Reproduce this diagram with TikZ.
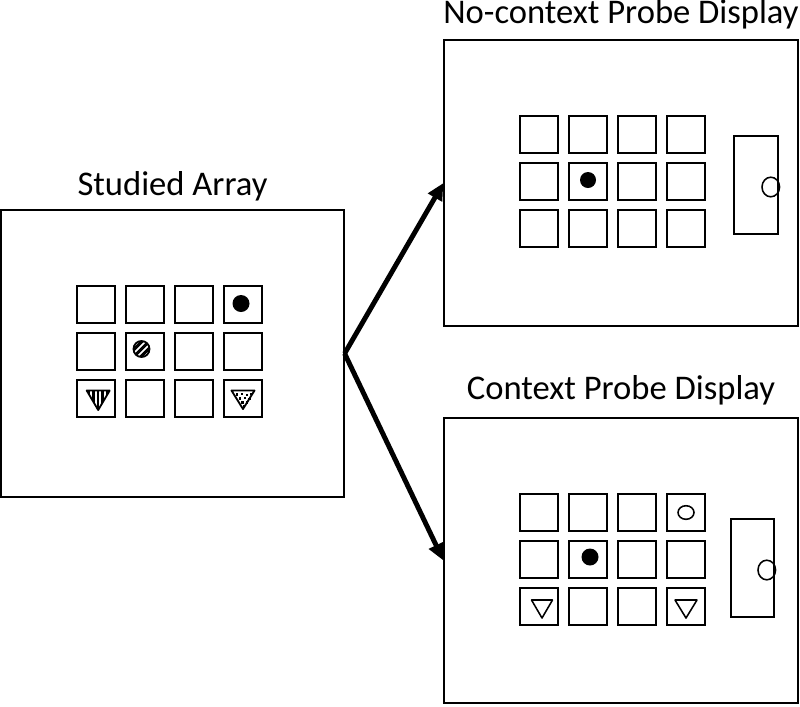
\documentclass[tikz,border=0pt]{standalone}
\usepackage{fontspec}
\setmainfont{Carlito}
\usetikzlibrary{positioning,arrows.meta}

\tikzset{
  display/.style={draw, line width=0.8pt, inner sep=0pt},
  cell/.style={draw, line width=1.3pt, minimum size=0.93cm, inner sep=0pt},
  target/.style={draw, line width=1.1pt, minimum width=1.1cm, minimum height=2.45cm, inner sep=0pt},
  title/.style={inner sep=0pt, font=\fontsize{24.6}{29}\selectfont},
  link/.style={line width=3.5pt, -{Triangle[length=12pt,width=11pt]}},
}

\begin{document}
\begin{tikzpicture}[x=0.025cm, y=-0.025cm]
    \useasboundingbox (0,0) rectangle (800,706);

    % Displays
    \node[display, minimum width=8.575cm, minimum height=7.175cm] (studied) at (172.5,353.5) {};
    \node[display, minimum width=8.85cm, minimum height=7.15cm] (nocontext) at (621,183) {};
    \node[display, minimum width=8.85cm, minimum height=7.125cm] (context) at (621,560.5) {};

    % Titles
    \node[title, above=0.19cm of studied] (studiedtitle) {Studied Array};
    \node[title, above=0.24cm of nocontext] (nocontexttitle) {No-context Probe Display};
    \node[title, above=0.29cm of context] (contexttitle) {Context Probe Display};

    % Cell grids
    \foreach \r in {1,2,3} {
        \foreach \c in {1,...,4} {
            \node[cell] (sa-\r-\c) at ({96+49*(\c-1)},{304.5+47*(\r-1)}) {};
            \node[cell] (nc-\r-\c) at ({539+49*(\c-1)},{134.5+47*(\r-1)}) {};
            \node[cell] (cp-\r-\c) at ({539+49*(\c-1)},{512.5+47*(\r-1)}) {};
        }
    }

    % Response targets
    \node[target] (nctarget) at (756,185) {};
    \node[target, minimum width=1.075cm] (cptarget) at (752.5,568) {};

    % Studied items
    \fill ([shift={(-2,-1)}]sa-1-4.center) circle[radius=8.5];
    \begin{scope}[shift={(sa-2-2.center)}]
        \begin{scope}
            \clip (-3.5,-2.5) circle[radius=8];
            \foreach \k in {-7.5,-0.5,6.5} {
                \draw[line width=2.1pt] (\k-12,6.5) -- (\k+12,-17.5);
            }
        \end{scope}
        \draw[line width=1.3pt] (-3.5,-2.5) circle[radius=8];
    \end{scope}
    \begin{scope}[shift={(sa-3-1.center)}]
        \begin{scope}
            \clip (-9.3,-8) -- (13.7,-8) -- (2.2,11.5) -- cycle;
            \foreach \k in {-7,-2.5,2,6.5,11} {
                \draw[line width=2pt] (\k,-10) -- (\k,14);
            }
        \end{scope}
        \draw[line width=1.3pt, line join=round] (-9.3,-8) -- (13.7,-8) -- (2.2,11.5) -- cycle;
    \end{scope}
    \begin{scope}[shift={(sa-3-4.center)}]
        \draw[line width=1.3pt, line join=round] (-11.5,-8) -- (11.5,-8) -- (0,10.5) -- cycle;
        \foreach \p in {(-7.5,-5.5),(-2.5,-6),(2.5,-5),(7,-6),(-4.5,-1.5),(0.5,-2),(5,-1),(-2,2.5),(2.5,2.5),(-0.5,6)} {
            \fill \p rectangle ++(2.5,2.5);
        }
    \end{scope}

    % No-context probe
    \fill ([shift={(0,-1.5)}]nc-2-2.center) circle[radius=8];
    \draw[line width=1.1pt] ([shift={(-8,2)}]nctarget.east) circle[x radius=8.8, y radius=9.8];

    % Context probe
    \draw[line width=1.1pt] (cp-1-4.center) circle[x radius=8, y radius=6.8];
    \fill ([shift={(2,-2.5)}]cp-2-2.center) circle[radius=8.5];
    \draw[line width=1.1pt, line join=round] ([shift={(-7.5,-6.5)}]cp-3-1.center) -- ++(21,0) -- ++(-10.5,18) -- cycle;
    \draw[line width=1.1pt, line join=round] ([shift={(-11,-6.5)}]cp-3-4.center) -- ++(22,0) -- ++(-11,18) -- cycle;
    \draw[line width=1.1pt] ([shift={(-8,2)}]cptarget.east) circle[x radius=8.8, y radius=9.8];

    % Connections
    \draw[link] (studied.east) -- (nocontext.west);
    \draw[link] (studied.east) -- (context.west);
\end{tikzpicture}
\end{document}
